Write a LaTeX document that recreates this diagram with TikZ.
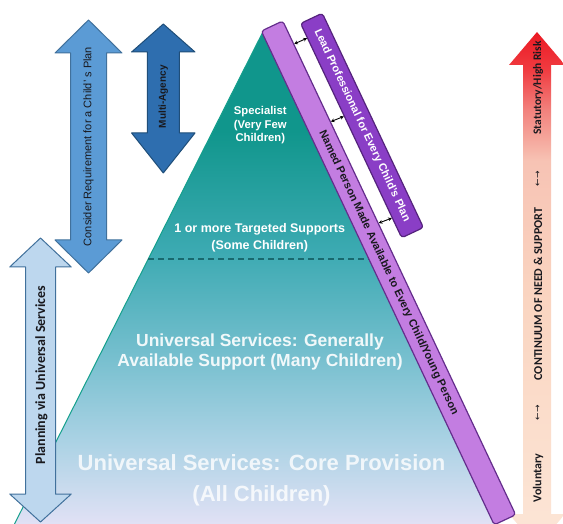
\documentclass[tikz,border=0pt]{standalone}
\usepackage{fontspec}
\setmainfont{Liberation Sans}
\newfontfamily\calfont{Carlito}
\newfontfamily\symfont{DejaVu Sans}
\usetikzlibrary{calc,arrows.meta}

\definecolor{tealtop}{RGB}{16,150,140}
\definecolor{tealmid}{RGB}{60,170,178}
\definecolor{teallow}{RGB}{115,190,205}
\definecolor{paleblue}{RGB}{170,210,228}
\definecolor{lavbottom}{RGB}{225,225,245}
\definecolor{tealedge}{RGB}{20,160,140}
\definecolor{dashteal}{RGB}{25,105,110}
\definecolor{consblue}{RGB}{91,155,213}
\definecolor{consedge}{RGB}{65,113,156}
\definecolor{agencyblue}{RGB}{46,110,175}
\definecolor{agencyedge}{RGB}{31,78,121}
\definecolor{planblue}{RGB}{189,215,238}
\definecolor{namedfill}{RGB}{195,125,225}
\definecolor{namededge}{RGB}{100,45,140}
\definecolor{leadfill}{RGB}{138,62,198}
\definecolor{leadedge}{RGB}{85,35,125}
\definecolor{inkdark}{RGB}{25,25,30}
\definecolor{redtop}{RGB}{235,25,35}
\definecolor{redmid}{RGB}{240,60,65}
\definecolor{pinkred}{RGB}{242,130,125}
\definecolor{salmon}{RGB}{247,195,180}
\definecolor{peachmid}{RGB}{250,213,193}
\definecolor{peachlow}{RGB}{252,230,215}

\pgfdeclareverticalshading{tiershade}{100bp}{color(0bp)=(lavbottom); color(25bp)=(lavbottom);
  color(33.5bp)=(paleblue); color(42.6bp)=(teallow); color(52.7bp)=(tealmid);
  color(64.9bp)=(tealtop); color(100bp)=(tealtop)}
\pgfdeclareverticalshading{riskshade}{100bp}{color(0bp)=(peachlow); color(25bp)=(peachlow);
  color(48.9bp)=(peachmid); color(62.5bp)=(salmon); color(67.4bp)=(pinkred);
  color(71.3bp)=(redmid); color(75bp)=(redtop); color(100bp)=(redtop)}

\newcommand{\barAngle}{-64.75}
\newcommand{\fsize}[2]{\fontsize{#1}{#2}\selectfont}
% #1 style, #2 x, #3/#4 top tip and head base, #5/#6 bottom head base and tip,
% #7 half shaft, #8 half head
\newcommand{\dblArrow}[8]{%
  \draw[#1] (#2,#3) -- ({#2+#8},#4) -- ({#2+#7},#4) -- ({#2+#7},#5) -- ({#2+#8},#5)
    -- (#2,#6) -- ({#2-#8},#5) -- ({#2-#7},#5) -- ({#2-#7},#4) -- ({#2-#8},#4) -- cycle;}

\tikzset{
  tier/.style={text=white, align=center, inner sep=0pt},
  bar/.style={rotate=\barAngle, rounded corners=3pt, line width=1.2pt, inner sep=0pt,
    font=\bfseries\fsize{11}{13}},
  riskText/.style={rotate=90, text=inkdark, font=\calfont\bfseries\fsize{11.5}{14}},
  tip/.style={{Stealth[length=3.6pt,width=3.8pt]}-{Stealth[length=3.6pt,width=3.8pt]}}
}

\begin{document}
\begin{tikzpicture}[x=1pt, y=-1pt, line join=round]
  \clip (0,0) rectangle (563,524);
  \fill[white] (0,0) rectangle (563,524);

  % the tiers
  \coordinate (apex) at (263,31.7);
  \coordinate (bl) at (14.5,524);
  \coordinate (br) at (495.5,524);
  \shade[shading=tiershade] (apex) -- (bl) -- (br) -- cycle;
  \draw[tealedge, line width=1pt] (apex) -- (bl);
  \draw[dashteal, line width=1.1pt, dash pattern=on 6pt off 4pt]
    ($(apex)!0.4617!(bl)$) -- ($(apex)!0.4617!(br)$);

  \node[tier, font=\bfseries\fsize{11.3}{13.7}] (specialist) at (260.3,125.2)
    {Specialist\\(Very Few\\Children)};
  \node[tier, font=\bfseries\fsize{12.5}{16.6}] (targeted) at (259.7,237.8)
    {1 or more Targeted Supports\\(Some Children)};
  \node[tier, text opacity=0.9, font=\bfseries\fsize{17.5}{20}] (generally) at (260,352.2)
    {Universal Services: Generally\\Available Support (Many Children)};
  \node[tier, text opacity=0.8, font=\bfseries\fsize{22}{31.7}] (core) at (261.5,480.3)
    {Universal Services: Core Provision\\(All Children)};

  % left hand arrows
  \dblArrow{fill=consblue, draw=consedge, line width=1pt}{88.5}{20}{53}{240}{273}{18}{33.5}
  \node[rotate=90, text=inkdark, font=\fsize{11}{13}] (consider) at (88.5,146.5)
    {Consider Requirement for a Child' s Plan};
  \dblArrow{fill=agencyblue, draw=agencyedge, line width=1pt}{163.3}{24}{52}{133}{173}{16}{31.7}
  \node[rotate=90, text=inkdark, font=\bfseries\fsize{10}{12}] (agency) at (163.3,96.7)
    {Multi-Agency};
  \dblArrow{fill=planblue, draw=consedge, line width=1pt}{40.5}{238}{267}{494}{522}{15}{30.8}
  \node[rotate=90, text=inkdark, font=\calfont\bfseries\fsize{14}{16}] (planning) at (41.5,375)
    {Planning via Universal Services};

  % continuum on the right
  \dblArrow{shade, shading=riskshade, draw=none}{537}{32}{65}{514}{547}{14}{28}
  \node[riskText] (statutory) at (538,88) {Statutory/High Risk};
  \node[riskText, font=\symfont\fsize{9}{11}] (uphigh) at (538,179) {←→};
  \node[riskText, font=\calfont\bfseries\fsize{12}{14}] (continuum) at (538,294)
    {CONTINUUM OF NEED \& SUPPORT};
  \node[riskText, font=\symfont\fsize{9}{11}] (uplow) at (538,413) {←→};
  \node[riskText, font=\calfont\bfseries\fsize{12}{14}] (voluntary) at (538,478) {Voluntary};

  % named person and lead professional
  \node[bar, fill=namedfill, draw=namededge, text=inkdark, minimum width=546, minimum height=23.7]
    (named) at (388.5,272.9) {Named Person Made Available to Every Child/Young Person};
  \node[bar, fill=leadfill, draw=leadedge, text=white, minimum width=237, minimum height=24]
    (lead) at (362,125.5) {Lead Professional for Every Child's Plan};
  \foreach \s/\t in {0.048/0.07, 0.205/0.433, 0.41/0.905}
    \draw[tip, line width=0.9pt] ($(named.north west)!\s!(named.north east)$)
      -- ($(lead.south west)!\t!(lead.south east)$);
\end{tikzpicture}
\end{document}
